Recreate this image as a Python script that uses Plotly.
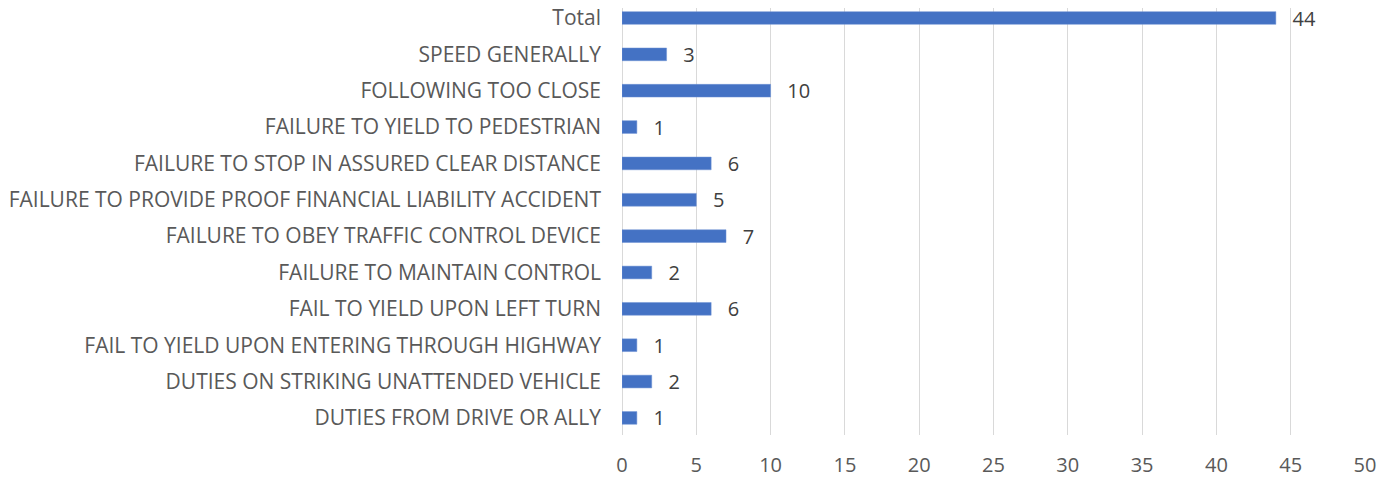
import plotly.graph_objects as go

# categories listed bottom to top (as plotted)
categories = [
    "DUTIES FROM DRIVE OR ALLY",
    "DUTIES ON STRIKING UNATTENDED VEHICLE",
    "FAIL TO YIELD UPON ENTERING THROUGH HIGHWAY",
    "FAIL TO YIELD UPON LEFT TURN",
    "FAILURE TO MAINTAIN CONTROL",
    "FAILURE TO OBEY TRAFFIC CONTROL DEVICE",
    "FAILURE TO PROVIDE PROOF FINANCIAL LIABILITY ACCIDENT",
    "FAILURE TO STOP IN ASSURED CLEAR DISTANCE",
    "FAILURE TO YIELD TO PEDESTRIAN",
    "FOLLOWING TOO CLOSE",
    "SPEED GENERALLY",
    "Total",
]
counts = [1, 2, 1, 6, 2, 7, 5, 6, 1, 10, 3, 44]
x_ticks = [0, 5, 10, 15, 20, 25, 30, 35, 40, 45, 50]

font_name = "Open Sans"

fig = go.Figure(
    go.Bar(
        x=counts,
        y=categories,
        orientation="h",
        marker=dict(color="#4472C4", line=dict(color="#6F93D4", width=0.5)),
        texttemplate="\u00a0\u00a0\u2009%{x}",
        textposition="outside",
        constraintext="none",
        textfont=dict(color="#404040", size=20, family=font_name),
        cliponaxis=False,
    )
)

# the page body has an 8px margin, so the figure is a bit smaller than the window
fig.update_layout(
    width=1384,
    height=469,
    margin=dict(l=614, r=27, t=0, b=42),
    plot_bgcolor="white",
    paper_bgcolor="white",
    bargap=0.65,
    showlegend=False,
    font=dict(family=font_name, color="#595959", size=20),
)

fig.update_xaxes(
    range=[0, 50],
    tickvals=x_ticks,
    showgrid=True,
    gridcolor="#D9D9D9",
    gridwidth=1.3,
    zeroline=True,
    zerolinecolor="#D9D9D9",
    zerolinewidth=1.3,
    showline=False,
    tickfont=dict(size=20, color="#595959"),
    ticklabelstandoff=16,
    automargin=False,
)

fig.update_yaxes(
    range=[-0.47, 11.275],
    showgrid=False,
    showline=False,
    ticks="",
    tickfont=dict(size=21, color="#595959"),
    ticklabelstandoff=20,
    automargin=False,
)

fig.write_html("out.html")
